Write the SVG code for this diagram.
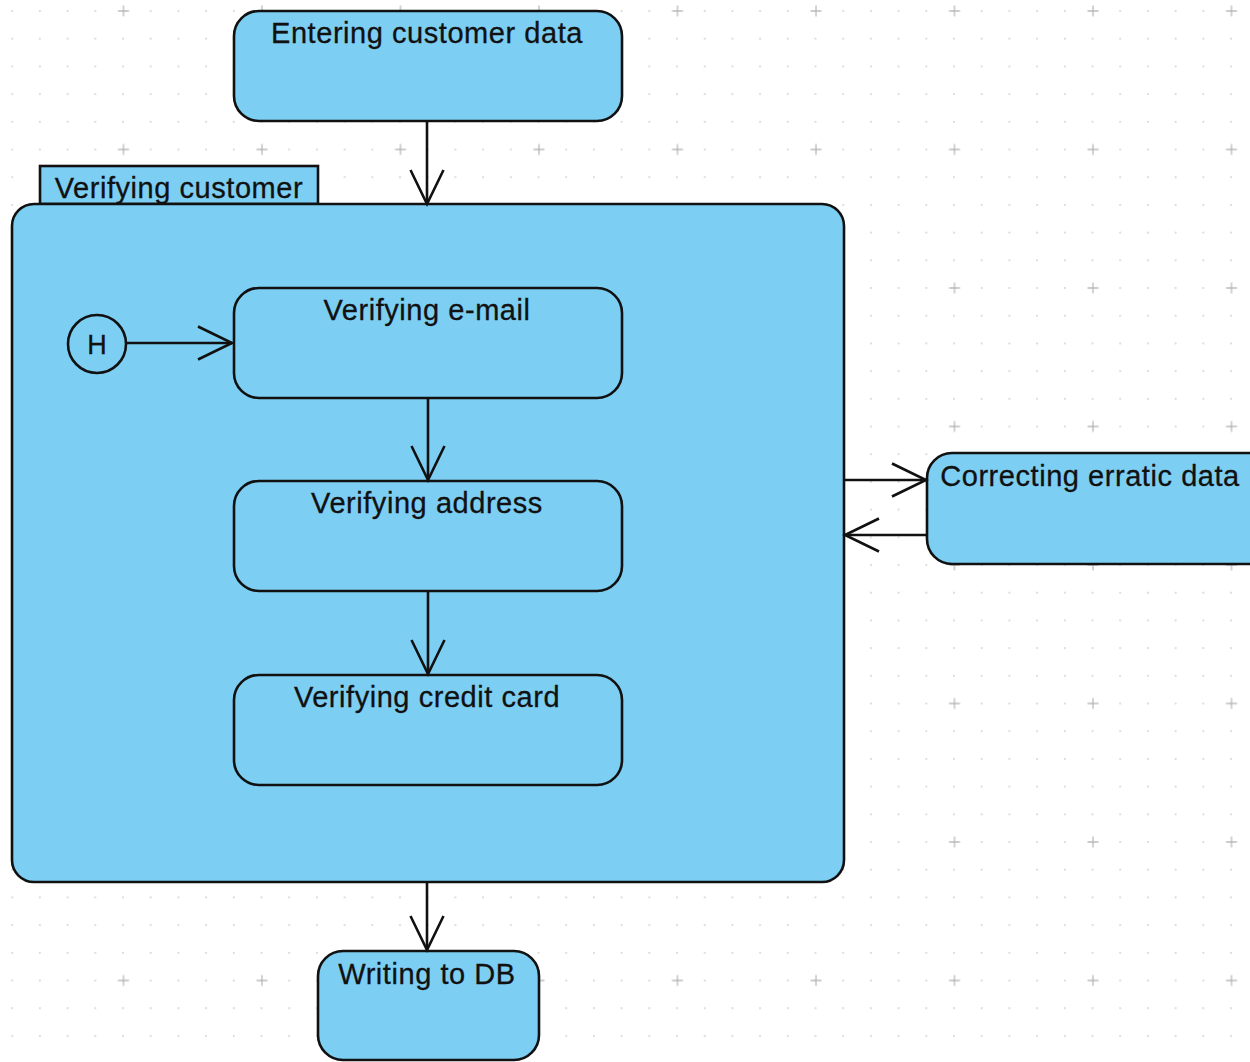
<svg xmlns="http://www.w3.org/2000/svg" width="1250" height="1062" viewBox="0 0 1250 1062">
<defs>
<style>
.st{fill:#7dcef3;stroke:#111;stroke-width:2.6}
.lbl{font-family:"Liberation Sans",Arial,sans-serif;font-size:29px;letter-spacing:0.55px;fill:#111;text-anchor:middle;stroke:#111;stroke-width:0.3}
.cn{fill:none;stroke:#111;stroke-width:2.6}
</style>
<pattern id="dots" patternUnits="userSpaceOnUse" x="-1.6" y="-2.8" width="27.7" height="27.7">
<rect x="13" y="13" width="1.6" height="1.6" fill="#ccc"/>
</pattern>
<pattern id="plus" patternUnits="userSpaceOnUse" x="117.5" y="5" width="138.5" height="138.5">
<path d="M0.5,6 h11 M6,0.5 v11" stroke="#bbb" stroke-width="1.3"/>
</pattern>
<marker id="arr" markerUnits="userSpaceOnUse" viewBox="-40 -20 44 40" markerWidth="44" markerHeight="40" refX="0" refY="0" orient="auto" overflow="visible">
<path d="M-34,-16.5 L0,0 L-34,16.5" fill="none" stroke="#111" stroke-width="2.6"/>
</marker>
</defs>
<rect width="1250" height="1062" fill="#fff"/>
<rect width="1250" height="1062" fill="url(#dots)"/>
<rect width="1250" height="1062" fill="url(#plus)"/>

<g id="verifying-customer">
<rect class="st" x="40" y="166" width="278" height="38"/>
<text class="lbl" x="179" y="198">Verifying customer</text>
<rect class="st" x="12" y="204" width="832" height="678" rx="22"/>
</g>

<g id="entering-customer-data">
<rect class="st" x="234" y="11" width="388" height="110" rx="25"/>
<text class="lbl" x="427" y="43">Entering customer data</text>
</g>

<g id="history">
<circle class="st" cx="97" cy="344" r="29"/>
<text class="lbl" x="97" y="354" style="font-size:27px;letter-spacing:0">H</text>
</g>

<g id="verifying-email">
<rect class="st" x="234" y="288" width="388" height="110" rx="25"/>
<text class="lbl" x="427" y="320">Verifying e-mail</text>
</g>

<g id="verifying-address">
<rect class="st" x="234" y="481" width="388" height="110" rx="25"/>
<text class="lbl" x="427" y="513">Verifying address</text>
</g>

<g id="verifying-credit-card">
<rect class="st" x="234" y="675" width="388" height="110" rx="25"/>
<text class="lbl" x="427" y="707">Verifying credit card</text>
</g>

<g id="correcting-erratic-data">
<rect class="st" x="927" y="453" width="350" height="111" rx="25"/>
<text class="lbl" x="1090" y="486">Correcting erratic data</text>
</g>

<g id="writing-to-db">
<rect class="st" x="318" y="951" width="221" height="109" rx="25"/>
<text class="lbl" x="427" y="984">Writing to DB</text>
</g>

<g id="connectors">
<line class="cn" x1="427" y1="121" x2="427" y2="204" marker-end="url(#arr)"/>
<line class="cn" x1="126" y1="343" x2="232" y2="343" marker-end="url(#arr)"/>
<line class="cn" x1="428" y1="398" x2="428" y2="480" marker-end="url(#arr)"/>
<line class="cn" x1="428" y1="591" x2="428" y2="674" marker-end="url(#arr)"/>
<line class="cn" x1="427" y1="882" x2="427" y2="950" marker-end="url(#arr)"/>
<line class="cn" x1="844" y1="480" x2="926" y2="480" marker-end="url(#arr)"/>
<line class="cn" x1="927" y1="535" x2="845" y2="535" marker-end="url(#arr)"/>
</g>
</svg>
